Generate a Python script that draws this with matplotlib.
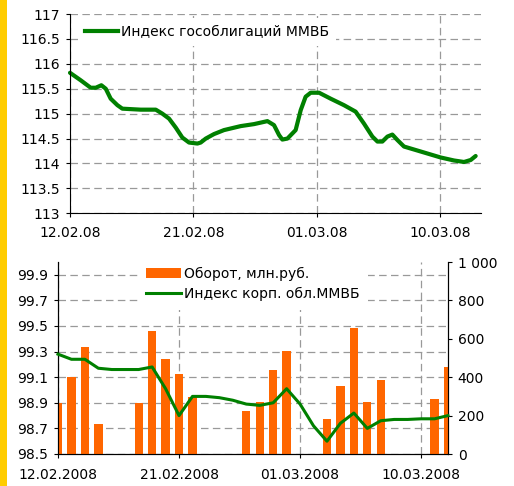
"""MMVB bond indices and turnover, 12.02.2008 - 12.03.2008."""

import matplotlib

matplotlib.use("Agg")

import matplotlib.pyplot as plt
import numpy as np
import pandas as pd
from matplotlib.lines import Line2D
from matplotlib.patches import Patch, Rectangle

START = pd.Timestamp("2008-02-12")

# top panel: government bond index (days since 12.02.08)
gov_days = [0.0, 0.78, 1.51, 1.88, 2.29, 2.61, 2.97, 3.46, 3.82, 5.16, 6.26, 6.74,
            7.23, 7.72, 8.20, 8.69, 9.30, 9.54, 9.91, 10.51, 11.24, 12.46, 13.43,
            14.41, 14.89, 15.26, 15.50, 15.87, 16.47, 16.84, 17.20, 17.57, 18.18,
            19.03, 20.00, 20.85, 21.46, 22.07, 22.44, 22.80, 23.17, 23.53, 23.90,
            24.38, 25.60, 27.06, 28.03, 28.76, 29.25, 29.61]
gov_index = [115.82, 115.67, 115.52, 115.52, 115.57, 115.50, 115.30, 115.17, 115.10,
             115.08, 115.08, 115.00, 114.90, 114.72, 114.52, 114.42, 114.40, 114.42,
             114.50, 114.59, 114.67, 114.75, 114.79, 114.85, 114.77, 114.57, 114.48,
             114.50, 114.67, 115.07, 115.34, 115.42, 115.42, 115.30, 115.17, 115.04,
             114.80, 114.54, 114.44, 114.44, 114.54, 114.58, 114.47, 114.34, 114.24,
             114.12, 114.06, 114.03, 114.07, 114.15]
gov_label = "Индекс гособлигаций ММВБ"
top_tick_labels = ["12.02.08", "21.02.08", "01.03.08", "10.03.08"]

# bottom panel: turnover (mln rub) on trading days
turnover_dates = ["2008-02-12", "2008-02-13", "2008-02-14", "2008-02-15", "2008-02-18",
                  "2008-02-19", "2008-02-20", "2008-02-21", "2008-02-22", "2008-02-26",
                  "2008-02-27", "2008-02-28", "2008-02-29", "2008-03-03", "2008-03-04",
                  "2008-03-05", "2008-03-06", "2008-03-07", "2008-03-11", "2008-03-12"]
turnover = [264, 399, 559, 156, 264, 642, 493, 415, 295, 226,
            271, 437, 538, 181, 354, 658, 271, 385, 288, 455]

# corporate bond index, one value per calendar day from 12.02.2008
corp_index = [99.28, 99.24, 99.24, 99.17, 99.16, 99.16, 99.16, 99.18, 99.01, 98.80,
              98.95, 98.95, 98.94, 98.92, 98.89, 98.88, 98.90, 99.01, 98.89, 98.72,
              98.60, 98.74, 98.82, 98.70, 98.76, 98.77, 98.77, 98.775, 98.775, 98.80]
turnover_label = "Оборот, млн.руб."
corp_label = "Индекс корп. обл.ММВБ"
bottom_tick_labels = ["12.02.2008", "21.02.2008", "01.03.2008", "10.03.2008"]
right_tick_labels = ["0", "200", "400", "600", "800", "1 000"]

GREEN = "#008000"
ORANGE = "#FF6600"
GRID = "#999999"
W, H = 514, 486

plt.rcParams["font.family"] = ["DejaVu Sans"]
plt.rcParams["font.size"] = 10


def px_box(left, top, right, bottom):
    return [left / W, 1 - bottom / H, (right - left) / W, (bottom - top) / H]


def style_axis(ax):
    ax.tick_params(axis="both", direction="out", length=3, width=0.8, colors="black", pad=4)
    for side in ("left", "bottom", "right", "top"):
        ax.spines[side].set_linewidth(0.8)
    ax.spines["top"].set_visible(False)
    ax.grid(True, color=GRID, linestyle=(0, (6, 3.5)), linewidth=0.9)
    ax.set_axisbelow(True)


fig = plt.figure(figsize=(W / 100, H / 100), dpi=100)
fig.patches.append(Rectangle((0, 0), 7 / W, 1, transform=fig.transFigure,
                             facecolor="#FFCC00", edgecolor="none"))

# --- top panel
ax = fig.add_axes(px_box(70, 14, 481, 213.3))
style_axis(ax)
ax.spines["right"].set_visible(False)
ax.plot(gov_days, gov_index, color=GREEN, linewidth=3, solid_joinstyle="round",
        solid_capstyle="round", clip_on=False)
ax.set_xlim(0, 30)
ax.set_ylim(113, 117)
ax.set_yticks(np.arange(113, 117.01, 0.5))
ax.set_yticklabels([f"{v:g}" for v in np.arange(113, 117.01, 0.5)])
ax.set_xticks([0, 9, 18, 27])
ax.set_xticklabels(top_tick_labels)
ax.tick_params(axis="x", pad=6)
ax.legend([Line2D([], [], color=GREEN, linewidth=3)], [gov_label],
          loc="center left", bbox_to_anchor=(78 / W, 1 - 32 / H), bbox_transform=fig.transFigure,
          frameon=True, facecolor="white", edgecolor="none", framealpha=1, fancybox=False,
          borderpad=0.5, handlelength=2.4, handletextpad=0.2, borderaxespad=0)

# --- bottom panel
box = px_box(58, 262, 448, 454)
axl = fig.add_axes(box)
style_axis(axl)
axl.set_xlim(0, 29)
axl.set_ylim(98.5, 100)
axl.set_yticks(np.arange(98.5, 99.91, 0.2))
axl.set_yticklabels([f"{v:.1f}" for v in np.arange(98.5, 99.91, 0.2)])
axl.set_xticks([0, 9, 18, 27])
axl.set_xticklabels(bottom_tick_labels)
axl.tick_params(axis="x", pad=7)

axr = axl.twinx()
axr.spines["top"].set_visible(False)
axr.spines["right"].set_linewidth(0.8)
bar_days = (pd.to_datetime(turnover_dates) - START).days
axr.bar(bar_days, turnover, width=0.62, color=ORANGE, edgecolor="none")
axr.set_ylim(0, 1000)
axr.set_yticks(np.arange(0, 1001, 200))
axr.set_yticklabels(right_tick_labels)
axr.tick_params(axis="y", direction="out", length=3, width=0.8, pad=4)

axc = axl.twinx()
axc.set_ylim(98.5, 100)
axc.axis("off")
axc.plot(np.arange(len(corp_index)), corp_index, color=GREEN, linewidth=2.2,
         solid_joinstyle="round", clip_on=False)
axc.legend([Patch(facecolor=ORANGE, edgecolor="none"), Line2D([], [], color=GREEN, linewidth=2.2)],
           [turnover_label, corp_label],
           loc="center left", bbox_to_anchor=(138 / W, 1 - 284 / H), bbox_transform=fig.transFigure,
           frameon=True, facecolor="white", edgecolor="none", framealpha=1, fancybox=False,
           borderpad=0.6, handlelength=2.5, handleheight=0.8, handletextpad=0.2,
           labelspacing=0.45, borderaxespad=0)

fig.savefig("out.png", dpi=100)
plt.close(fig)
